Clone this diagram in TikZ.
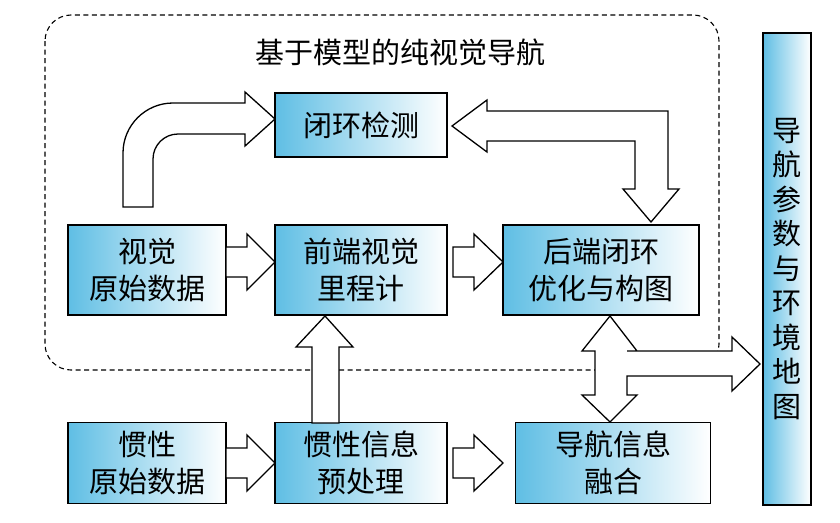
\documentclass[tikz,border=0pt]{standalone}
\usepackage{fontspec}
\setmainfont{Noto Sans CJK SC}
\begin{document}
\begin{tikzpicture}[x=1pt,y=-1pt,
  box/.style={draw,line width=1.4pt,left color=boxblue,right color=white,inner sep=0pt,align=center,font=\fontsize{29}{37}\selectfont},
  barrow/.style={draw,line width=1.3pt,fill=white,line join=miter}]
\definecolor{boxblue}{RGB}{95,190,228}
\useasboundingbox (0,0) rectangle (840,522);
\draw[line width=1.1pt,dash pattern=on 5pt off 3.5pt,rounded corners=26pt] (45,15) rectangle (719,370);
\node[font=\fontsize{29}{30}\selectfont] (title) at (400,52) {基于模型的纯视觉导航};
\node[box,minimum width=172pt,minimum height=64pt] (lc) at (361,125) {闭环检测};
\node[box,minimum width=158pt,minimum height=90pt] (vr) at (147,270) {视觉\\原始数据};
\node[box,minimum width=172pt,minimum height=90pt] (fe) at (361,270) {前端视觉\\里程计};
\node[box,minimum width=196pt,minimum height=90pt] (be) at (601,270) {后端闭环\\优化与构图};
\node[box,minimum width=158pt,minimum height=81pt] (ir) at (147,463) {惯性\\原始数据};
\node[box,minimum width=172pt,minimum height=81pt] (ip) at (361,463) {惯性信息\\预处理};
\node[box,minimum width=195pt,minimum height=81pt] (nf) at (613,463) {导航信息\\融合};
\node[box,minimum width=48pt,minimum height=472pt,font=\fontsize{29}{34.5}\selectfont] (out) at (787,269) {导\\航\\参\\数\\与\\环\\境\\地\\图};
% block arrows
\draw[barrow] (226,247)--(247,247)--(247,234)--(275,262)--(247,290)--(247,277)--(226,277)--cycle;
\draw[barrow] (453,247)--(474,247)--(474,234)--(503,262)--(474,290)--(474,277)--(453,277)--cycle;
\draw[barrow] (226,448)--(247,448)--(247,435)--(275,463)--(247,491)--(247,478)--(226,478)--cycle;
\draw[barrow] (453,448)--(474,448)--(474,435)--(503,463)--(474,491)--(474,478)--(453,478)--cycle;
\draw[barrow] (312,423)--(312,347)--(296,347)--(325,316)--(353,347)--(339,347)--(339,423)--cycle;
\draw[barrow] (123,207)--(123,153) arc[start angle=180,end angle=270,radius=50] --(245,103)--(245,92)--(275,119)--(245,146)--(245,134)--(178,134) arc[start angle=270,end angle=180,radius=25] --(153,207)--cycle;
\draw[barrow] (452,126)--(487,100)--(487,111)--(668,111)--(668,189)--(679,189)--(651,222)--(623,189)--(635,189)--(635,141)--(487,141)--(487,152)--cycle;
\draw[barrow] (610,316)--(637,351)--(627,351)--(732,351)--(732,337)--(760,364)--(732,391)--(732,376)--(627,376)--(627,395)--(637,395)--(610,422)--(582,395)--(595,395)--(595,351)--(582,351)--cycle;
\end{tikzpicture}
\end{document}
